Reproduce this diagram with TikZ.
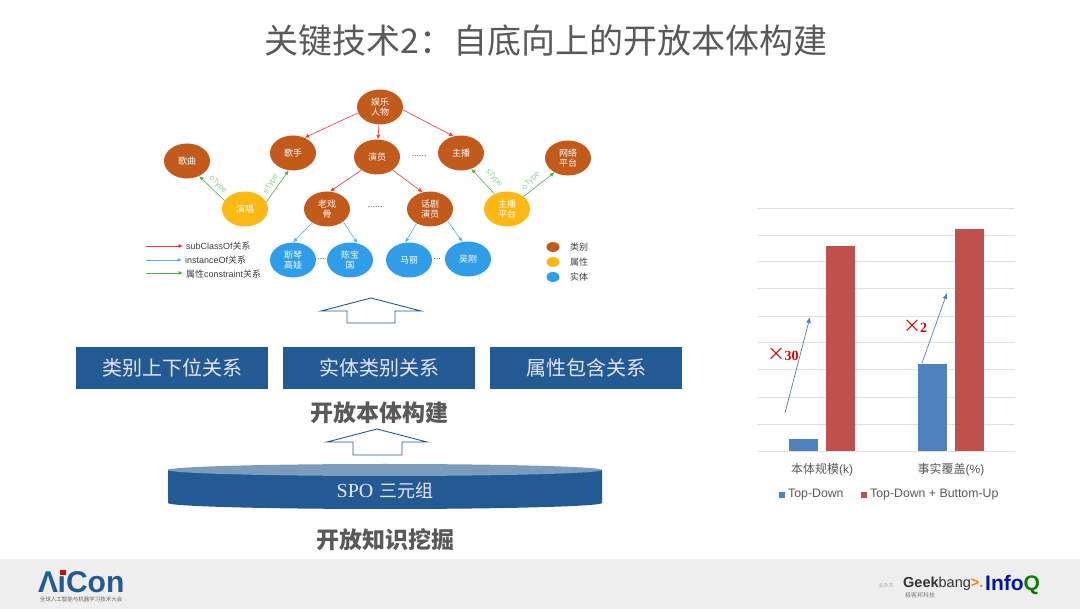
\documentclass[tikz,border=0pt]{standalone}
\usepackage{fontspec}
\setmainfont{Noto Sans CJK SC}
\setsansfont{Liberation Sans}
\newfontfamily\serifl{Liberation Serif}
\usetikzlibrary{shapes.geometric,arrows.meta}
\definecolor{barblue}{HTML}{4F81BD}
\definecolor{barred}{HTML}{C0504D}
\definecolor{boxblue}{HTML}{245A93}
\definecolor{catcol}{HTML}{C25A1C}
\definecolor{propcol}{HTML}{FDB813}
\definecolor{entcol}{HTML}{2F9DE8}
\definecolor{titlegray}{HTML}{595959}
\tikzset{
  fsize/.style={font=\fontsize{#1}{#1}\selectfont},
  onto/.style={ellipse,inner sep=0pt,minimum width=46pt,minimum height=35pt,text=white,align=center,font=\fontsize{9}{10.5}\selectfont},
  cat/.style={onto,fill=catcol},
  prop/.style={onto,fill=propcol},
  ent/.style={onto,fill=entcol},
  subrel/.style={-{Latex[length=4.5pt,width=4pt]},draw=red!75!pink,line width=0.6pt},
  insrel/.style={-{Latex[length=4.5pt,width=4pt]},draw=entcol!80!white,line width=0.6pt},
  conrel/.style={-{Latex[length=4.5pt,width=4pt]},draw=green!40!gray,line width=0.6pt},
  typelab/.style={text=green!40!gray!60!white,font=\sffamily\fontsize{8}{8}\selectfont,inner sep=0pt},
  legtxt/.style={anchor=west,inner sep=0pt,text=black!75,font=\fontsize{9}{9}\selectfont},
  relbox/.style={fill=boxblue,text=white!90!blue,minimum width=192pt,minimum height=42pt,inner sep=0pt,fsize=20},
  uparrow/.style={draw=boxblue,fill=white,line width=0.9pt},
  heading/.style={text=titlegray,inner sep=0pt,font=\fontsize{23}{23}\selectfont\bfseries},
  dotsnode/.style={text=black!70,inner sep=0pt,font=\sffamily\fontsize{9}{9}\selectfont},
  gainlab/.style={text=red!85!black,inner sep=0pt,font=\serifl\bfseries\fontsize{14}{14}\selectfont},
  chartlab/.style={text=black!65,inner sep=0pt,fsize=12},
  gainarrow/.style={-{Latex[length=6pt,width=5pt]},draw=barblue,line width=0.7pt}
}
\begin{document}
\begin{tikzpicture}[x=1pt,y=-1pt]
  \useasboundingbox (0,0) rectangle (1080,609);
  \fill[white] (0,0) rectangle (1080,609);
  \node[text=titlegray,inner sep=0pt,fsize=34] (title) at (546,41) {关键技术2：自底向上的开放本体构建};

  % ontology tree
  \node[cat] (root) at (380,107) {娱乐\\人物};
  \node[cat] (song) at (187,161) {歌曲};
  \node[cat] (singer) at (293,153) {歌手};
  \node[cat] (actor) at (377,157) {演员};
  \node[cat] (host) at (461,153) {主播};
  \node[cat] (platform) at (568,158) {网络\\平台};
  \node[prop] (sing) at (245,209) {演唱};
  \node[cat] (veteran) at (327,209) {老戏\\骨};
  \node[cat] (drama) at (430,209) {话剧\\演员};
  \node[prop] (hostplat) at (507,209) {主播\\平台};
  \node[ent] (siqin) at (293,260) {斯琴\\高娃};
  \node[ent] (chen) at (350,260) {陈宝\\国};
  \node[ent] (mali) at (409,260) {马丽};
  \node[ent] (wu) at (468,259) {吴刚};
  \draw[subrel] (root.-165) -- (singer.53);
  \draw[subrel] (root) -- (actor);
  \draw[subrel] (root.-7) -- (host.114);
  \draw[subrel] (actor.-140) -- (veteran.80);
  \draw[subrel] (actor.-40) -- (drama.114);
  \draw[insrel] (veteran.-137) -- (siqin.90);
  \draw[insrel] (veteran.-38) -- (chen.66);
  \draw[insrel] (drama.-133) -- (mali.102);
  \draw[insrel] (drama.-34) -- (wu.108);
  \draw[conrel] (sing.158) -- (song.-51);
  \draw[conrel] (sing.18) -- (singer.-104);
  \draw[conrel] (hostplat.130) -- (host.-57);
  \draw[conrel] (hostplat.37) -- (platform.-133);
  \node[typelab,rotate=-45] (otypea) at (218,185) {oType};
  \node[typelab,rotate=60] (stypea) at (271,184) {sType};
  \node[typelab,rotate=-50] (stypeb) at (494,178) {sType};
  \node[typelab,rotate=45] (otypeb) at (531,181) {oType};
  \node[dotsnode] (dotsa) at (419,156) {......};
  \node[dotsnode] (dotsb) at (375,207) {......};
  \node[dotsnode] (dotsc) at (321,259) {...};
  \node[dotsnode] (dotsd) at (437,259) {...};

  % legends
  \coordinate (suba) at (146,246);
  \coordinate (subb) at (183,246);
  \coordinate (insa) at (146,260);
  \coordinate (insb) at (182,260);
  \coordinate (cona) at (146,273);
  \coordinate (conb) at (183,273);
  \draw[subrel] (suba) -- (subb);
  \draw[insrel] (insa) -- (insb);
  \draw[conrel] (cona) -- (conb);
  \node[legtxt] (subtxt) at (186,246) {{\sffamily subClassOf}关系};
  \node[legtxt] (instxt) at (185,260) {{\sffamily instanceOf}关系};
  \node[legtxt] (contxt) at (186,274) {属性{\sffamily constraint}关系};
  \fill[catcol] (553,247) ellipse (6.5 and 5);
  \fill[propcol] (553,262) ellipse (6.5 and 5);
  \fill[entcol] (553,277) ellipse (6.5 and 5);
  \node[legtxt] (cattxt) at (570,247) {类别};
  \node[legtxt] (proptxt) at (570,262) {属性};
  \node[legtxt] (enttxt) at (570,277) {实体};

  % stack on the left
  \begin{scope}[shift={(371,298)}]
    \draw[uparrow] (0,0)--(50,13)--(24,13)--(24,25)--(-24,25)--(-24,13)--(-50,13)--cycle;
  \end{scope}
  \node[relbox] (relsub) at (172,368) {类别上下位关系};
  \node[relbox] (relins) at (379,368) {实体类别关系};
  \node[relbox] (relcon) at (586,368) {属性包含关系};
  \node[heading] (build) at (379,413) {开放本体构建};
  \begin{scope}[shift={(377,429)}]
    \draw[uparrow] (0,0)--(50,13)--(25,13)--(25,26)--(-24,26)--(-24,13)--(-50,13)--cycle;
  \end{scope}
  \fill[boxblue] (168,470) -- (168,503) arc[start angle=180,end angle=0,x radius=217,y radius=6] -- (602,470) -- cycle;
  \fill[boxblue!60!white] (385,470) ellipse (217 and 6);
  \node[text=white!90!blue,inner sep=0pt,fsize=18] (spo) at (385,491) {{\serifl\fontsize{20}{20}\selectfont SPO}\kern6pt 三元组};
  \node[heading] (mining) at (385,540) {开放知识挖掘};

  % chart
  \foreach \gy in {208,235,261,288,316,342,369,397,424,451}
    \draw[black!12,line width=0.6pt] (757,\gy) -- (1015,\gy);
  \fill[barblue] (789,439) rectangle (818,451);
  \fill[barred] (826,246) rectangle (855,451);
  \fill[barblue] (918,364) rectangle (947,451);
  \fill[barred] (955,229) rectangle (984,451);
  \coordinate (gaina) at (785,413);
  \coordinate (gainb) at (810,317);
  \coordinate (gainc) at (922,363);
  \coordinate (gaind) at (947,293);
  \draw[gainarrow] (gaina) -- (gainb);
  \draw[gainarrow] (gainc) -- (gaind);
  \node[gainlab] (thirty) at (783,354) {{\rmfamily\mdseries\fontsize{18}{14}\selectfont ×}\kern-1pt 30};
  \node[gainlab] (twice) at (915,326) {{\rmfamily\mdseries\fontsize{18}{14}\selectfont ×}\kern-1pt 2};
  \node[chartlab] (scalelab) at (822,470) {本体规模{\sffamily (k)}};
  \node[chartlab] (factlab) at (951,470) {事实覆盖{\sffamily (\%)}};
  \fill[barblue] (779,492) rectangle (785,498);
  \fill[barred] (861,492) rectangle (867,498);
  \node[chartlab,anchor=west,font=\sffamily\fontsize{12.3}{12}\selectfont] (tdlab) at (788,495) {Top-Down};
  \node[chartlab,anchor=west,font=\sffamily\fontsize{12.3}{12}\selectfont] (bulab) at (870,495) {Top-Down + Buttom-Up};

  % footer
  \fill[black!6.5] (0,559) rectangle (1080,609);
  \node[inner sep=0pt,anchor=west,text=boxblue,font=\sffamily\bfseries\fontsize{30}{30}\selectfont] (aicon) at (38,582) {Λ\kern-0.5pt ıCon};
  \fill[red!85!black] (60,570.5) rectangle (65.5,575);
  \node[inner sep=0pt,text=black!60,fsize=5.5] (aiconsub) at (81,599) {全球人工智能与机器学习技术大会};
  \node[inner sep=0pt,text=black!35,fsize=5] (hostlab) at (886,586) {主办方};
  \node[inner sep=0pt,anchor=west,text=black!80,font=\sffamily\bfseries\fontsize{14.5}{14.5}\selectfont] (geek) at (903,584) {Geek{\mdseries bang}\textcolor{orange}{>.}};
  \node[inner sep=0pt,text=black!50,fsize=6] (geeksub) at (920,595) {极客邦科技};
  \node[inner sep=0pt,anchor=west,text=blue!55!black!90!cyan,font=\sffamily\bfseries\fontsize{21}{21}\selectfont] (infoq) at (985,585) {Info\textcolor{green!50!black}{Q}};
\end{tikzpicture}
\end{document}
